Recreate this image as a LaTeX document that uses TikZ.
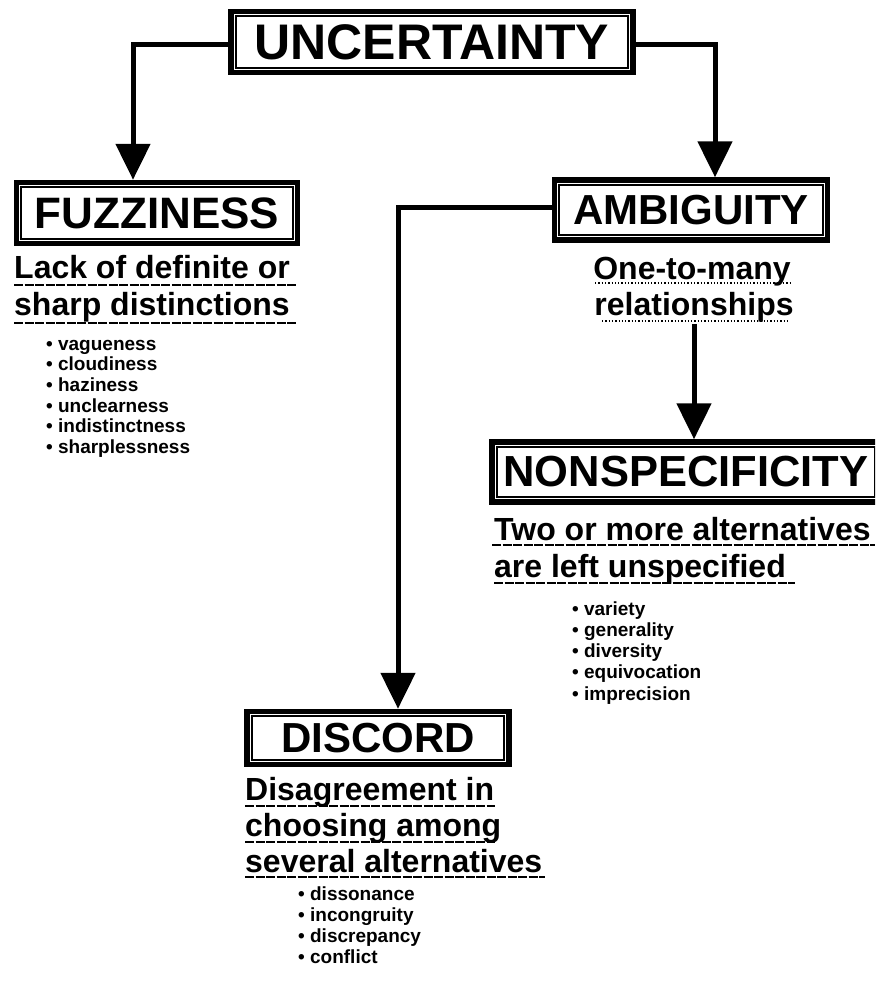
\documentclass[tikz,border=0pt]{standalone}
\usepackage{fontspec}
\setmainfont{Liberation Sans}
\usetikzlibrary{arrows.meta}
\begin{document}
\begin{tikzpicture}[x=1pt,y=-1pt,
  titlebox/.style={draw, line width=5.5pt, inner sep=0pt, font=\bfseries\fontsize{42}{42}\selectfont},
  innerframe/.style={line width=2pt},
  conn/.style={line width=5pt, -{Triangle[length=36pt,width=34pt]}},
  desc/.style={anchor=base west, inner sep=0pt, font=\bfseries\fontsize{32}{32}\selectfont},
  descc/.style={anchor=base, inner sep=0pt, font=\bfseries\fontsize{32}{32}\selectfont},
  item/.style={anchor=base west, inner sep=0pt, font=\bfseries\fontsize{19}{21}\selectfont},
  uline/.style={line width=1.3pt, dash pattern=on 9pt off 1.5pt}]
\clip (0,0) rectangle (875,990);
\fill[white] (0,0) rectangle (875,990);

% title boxes
\node[titlebox, minimum width=402pt, minimum height=61pt, font=\bfseries\fontsize{50}{50}\selectfont] (unc) at (432,42) {UNCERTAINTY};
\node[titlebox, minimum width=281pt, minimum height=61pt, font=\bfseries\fontsize{44}{44}\selectfont] (fuz) at (157,213) {FUZZINESS};
\node[titlebox, minimum width=273pt, minimum height=60pt] (amb) at (691,210) {AMBIGUITY};
\node[titlebox, minimum width=388pt, minimum height=60pt, font=\bfseries\fontsize{43.5}{44}\selectfont] (non) at (686,472) {NONSPECIFICITY};
\node[titlebox, minimum width=262pt, minimum height=53pt] (dis) at (378,738) {DISCORD};
\foreach \n in {unc,fuz,amb,non,dis}
  \draw[innerframe] ([shift={(7.5pt,7.5pt)}]\n.south west) rectangle ([shift={(-7.5pt,-7.5pt)}]\n.north east);

% descriptions
\node[desc] (fd1) at (14,278) {Lack of definite or};
\node[desc] (fd2) at (14,315) {sharp distinctions};
\node[descc] (ad1) at (692,279) {One-to-many};
\node[descc] (ad2) at (694,315) {relationships};
\node[desc] (nd1) at (494,540) {Two or more alternatives};
\node[desc] (nd2) at (494,577) {are left unspecified};
\node[desc] (dd1) at (245,800) {Disagreement in};
\node[desc] (dd2) at (245,836) {choosing among};
\node[desc] (dd3) at (245,872) {several alternatives};

% underlines
\draw[uline] (14,285) -- (297,285);
\draw[uline] (14,323) -- (297,323);
\draw[uline, dotted] (595,283) -- (790,283);
\draw[uline, dotted] (602,321) -- (790,321);
\draw[uline] (492,545) -- (875,545);
\draw[uline] (494,583) -- (795,583);
\draw[uline] (245,806) -- (495,806);
\draw[uline] (245,842) -- (495,842);
\draw[uline] (245,877) -- (545,877);

% bullet lists
\foreach \t [count=\i] in {vagueness,cloudiness,haziness,unclearness,indistinctness,sharplessness}
  \node[item] (fi\i) at (46,{350+20.7*(\i-1)}) {\textbullet\ \t};
\foreach \t [count=\i] in {variety,generality,diversity,equivocation,imprecision}
  \node[item] (ni\i) at (572,{615+21.25*(\i-1)}) {\textbullet\ \t};
\foreach \t [count=\i] in {dissonance,incongruity,discrepancy,conflict}
  \node[item] (di\i) at (298,{900+21*(\i-1)}) {\textbullet\ \t};

% connectors
\draw[conn] ([yshift=-3pt]unc.west) -| ([xshift=-24pt]fuz.north);
\draw[conn] ([yshift=-3pt]unc.east) -| ([xshift=24pt]amb.north);
\draw[conn] ([yshift=3pt]amb.west) -| ([xshift=20pt]dis.north);
\draw[conn] ([yshift=-2pt]ad2.south) -- (ad2.south |- non.north);
\end{tikzpicture}
\end{document}
